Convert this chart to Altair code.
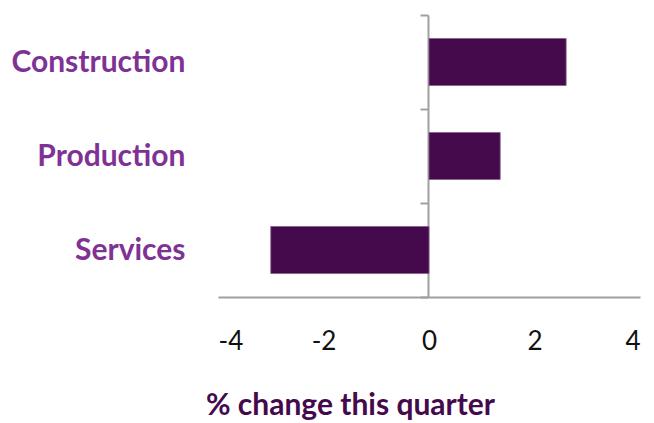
import altair as alt
import pandas as pd

categories = ["Construction", "Production", "Services"]
values = [2.6, 1.35, -3.0]
x_ticks = [-4, -2, 0, 2, 4]

df = pd.DataFrame({"sector": categories, "change": values})

bars = alt.Chart(df).mark_bar(
    color="#440a4b", stroke="#8a5a90", strokeWidth=0.8, height={"band": 0.5}
).encode(
    x=alt.X(
        "change:Q",
        scale=alt.Scale(domain=[-4, 4], nice=False, zero=False),
        axis=alt.Axis(
            values=x_ticks,
            labelExpr="'' + datum.value",
            title="% change this quarter",
            grid=False,
            ticks=False,
            domainColor="#a0a0a0",
            domainWidth=2,
            labelFont="Lato",
            labelFontSize=26,
            labelColor="#111111",
            labelPadding=31,
            titleFont="Lato",
            titleFontSize=30,
            titleFontWeight="bold",
            titleColor="#440a4b",
            titleX=132,
            titleY=117,
            titleAlign="center",
            titleBaseline="alphabetic",
        ),
    ),
    y=alt.Y(
        "sector:N",
        sort=categories,
        scale=alt.Scale(paddingInner=0, paddingOuter=0),
        axis=alt.Axis(
            title=None,
            grid=False,
            offset=-210,
            tickBand="extent",
            tickSize=8,
            tickWidth=2,
            tickColor="#a0a0a0",
            domainColor="#a0a0a0",
            domainWidth=2,
            labelFont="Lato",
            labelFontSize=30,
            labelFontWeight="bold",
            labelColor="#7f3294",
            labelPadding=235,
        ),
    ),
).properties(
    width=422,
    height=282,
    background="white",
    autosize=alt.AutoSizeParams(type="none"),
    padding={"left": 218, "top": 15, "right": 14, "bottom": 126},
).configure_view(stroke=None, strokeWidth=0)

bars.save("out.html", embed_options={"renderer": "svg", "actions": False})
